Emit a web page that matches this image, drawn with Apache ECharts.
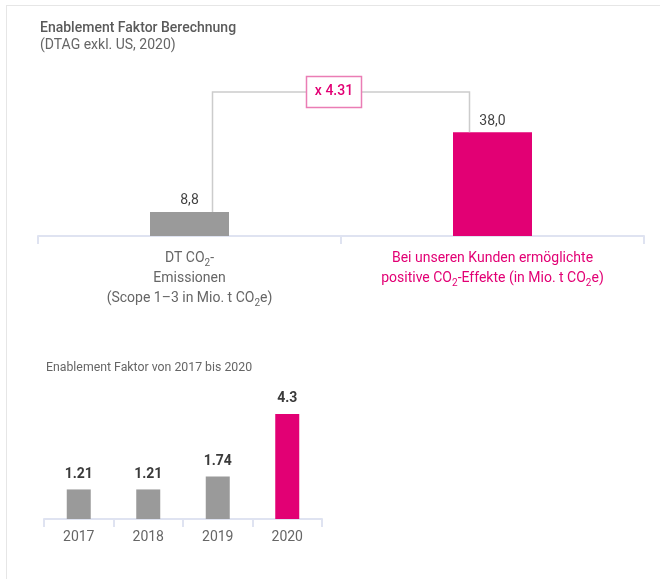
<!DOCTYPE html>
<html>
<head>
<meta charset="utf-8">
<script src="https://cdn.jsdelivr.net/npm/echarts@6/dist/echarts.min.js"></script>
<style>
  html, body { margin: 0; padding: 0; background: #fff; }
  #chart { width: 660px; height: 579px; }
</style>
</head>
<body>
<div id="chart"></div>
<script>
// Upper chart: DT emissions vs. enabled positive effects (Mio. t CO2e)
const calcCategories = [
  'DT CO₂-\nEmissionen\n(Scope 1–3 in Mio. t CO₂e)',
  'Bei unseren Kunden ermöglichte\npositive CO₂-Effekte (in Mio. t CO₂e)'
];
const calcValues = [8.8, 38.0];
const enablementFactorLabel = 'x 4.31';

// Lower chart: enablement factor per year
const years = ['2017', '2018', '2019', '2020'];
const factorValues = [1.21, 1.21, 1.74, 4.3];

const GRAY = '#9a9a9a';
const MAGENTA = '#e20074';
const AXIS = '#dfe3f1';
const FONT = 'Roboto, "Noto Sans", sans-serif';

const chart = echarts.init(document.getElementById('chart'), null, { renderer: 'canvas' });

// height of the bracket line above the upper bars (in value units)
const bracketLevel = 52.7;
const bracketInset = 23;

function bracketRender(params, api) {
  const p0 = api.coord([0, calcValues[0]]);
  const p1 = api.coord([1, calcValues[1]]);
  const yLine = api.coord([0, bracketLevel])[1];
  const x0 = p0[0] + bracketInset;
  const x1 = p1[0] - bracketInset;
  const cx = (x0 + x1) / 2 - 7;
  return {
    type: 'group',
    children: [
      {
        type: 'polyline',
        shape: { points: [[x0, p0[1]], [x0, yLine], [x1, yLine], [x1, p1[1]]] },
        style: { stroke: '#cccccc', lineWidth: 1.5, fill: null }
      },
      {
        type: 'rect',
        shape: { x: cx - 27.5, y: yLine - 15.5, width: 55, height: 31 },
        style: { fill: '#ffffff', stroke: '#ea7db5', lineWidth: 1.5 }
      },
      {
        type: 'text',
        style: {
          text: enablementFactorLabel, x: cx, y: yLine,
          align: 'center', verticalAlign: 'middle',
          fill: MAGENTA, font: '500 14px ' + FONT
        }
      }
    ]
  };
}

// category text with a real subscript for the "2" in CO2
function categoryLabel(value, index) {
  const base = index === 0 ? 'g' : 'm';
  return value.split('\n').map(function (line) {
    return line.split('₂').map(function (part) {
      return part ? '{' + base + '|' + part + '}' : '';
    }).join('{' + base + 's|2}');
  }).join('\n');
}

const option = {
  animation: false,
  backgroundColor: '#ffffff',
  textStyle: { fontFamily: FONT },
  title: [
    {
      text: 'Enablement Faktor Berechnung',
      subtext: '(DTAG exkl. US, 2020)',
      left: 35, top: 16, itemGap: 3,
      textStyle: { fontSize: 14, fontWeight: 500, color: '#5a5a5a', fontFamily: FONT },
      subtextStyle: { fontSize: 14, color: '#666666', fontFamily: FONT }
    },
    {
      text: 'Enablement Faktor von 2017 bis 2020',
      left: 41, top: 357,
      textStyle: { fontSize: 12.3, fontWeight: 'normal', color: '#666666', fontFamily: FONT }
    }
  ],
  grid: [
    { left: 38, right: 16, top: 72, bottom: 343 },
    { left: 44, width: 278, top: 372.4, bottom: 60 }
  ],
  xAxis: [
    {
      type: 'category', gridIndex: 0, data: calcCategories,
      axisLine: { lineStyle: { color: AXIS, width: 2 } },
      axisTick: { show: true, length: 8, lineStyle: { color: AXIS, width: 2 } },
      axisLabel: {
        margin: 12, interval: 0,
        formatter: categoryLabel,
        rich: {
          g: { fontSize: 14, lineHeight: 20, color: '#666666', fontFamily: FONT },
          gs: { fontSize: 10, lineHeight: 14, verticalAlign: 'bottom', color: '#666666', fontFamily: FONT },
          m: { fontSize: 14, lineHeight: 20, color: MAGENTA, fontFamily: FONT },
          ms: { fontSize: 10, lineHeight: 14, verticalAlign: 'bottom', color: MAGENTA, fontFamily: FONT }
        }
      }
    },
    {
      type: 'category', gridIndex: 1, data: years,
      axisLine: { lineStyle: { color: AXIS, width: 2 } },
      axisTick: { show: true, length: 8, lineStyle: { color: AXIS, width: 2 } },
      axisLabel: { margin: 11, fontSize: 14, color: '#666666', fontFamily: FONT }
    }
  ],
  yAxis: [
    { type: 'value', gridIndex: 0, min: 0, max: 60, show: false },
    { type: 'value', gridIndex: 1, min: 0, max: 6, show: false }
  ],
  series: [
    {
      type: 'bar', xAxisIndex: 0, yAxisIndex: 0, barWidth: 79,
      data: calcValues.map(function (v, i) {
        return { value: v, itemStyle: { color: i === 0 ? GRAY : MAGENTA } };
      }),
      label: {
        show: true, position: 'top', distance: 4,
        fontSize: 14, color: '#444444', fontFamily: FONT,
        formatter: function (p) { return p.value.toFixed(1).replace('.', ','); }
      }
    },
    {
      type: 'custom', xAxisIndex: 0, yAxisIndex: 0, silent: true, z: 3,
      data: [[0, 0]],
      renderItem: bracketRender
    },
    {
      type: 'bar', xAxisIndex: 1, yAxisIndex: 1, barWidth: 24,
      data: factorValues.map(function (v, i) {
        return { value: v, itemStyle: { color: i === factorValues.length - 1 ? MAGENTA : GRAY } };
      }),
      label: {
        show: true, position: 'top', distance: 8,
        fontSize: 14, fontWeight: 'bold', color: '#3a3a3a', fontFamily: FONT,
        formatter: function (p) { return String(p.value); }
      }
    }
  ],
  graphic: [
    // thin frame along the top and left edge
    { type: 'line', shape: { x1: 6, y1: 5.5, x2: 660, y2: 5.5 }, style: { stroke: '#e6e6e6', lineWidth: 1 }, silent: true },
    { type: 'line', shape: { x1: 6.5, y1: 5, x2: 6.5, y2: 579 }, style: { stroke: '#e6e6e6', lineWidth: 1 }, silent: true }
  ]
};

chart.setOption(option);
</script>
</body>
</html>
